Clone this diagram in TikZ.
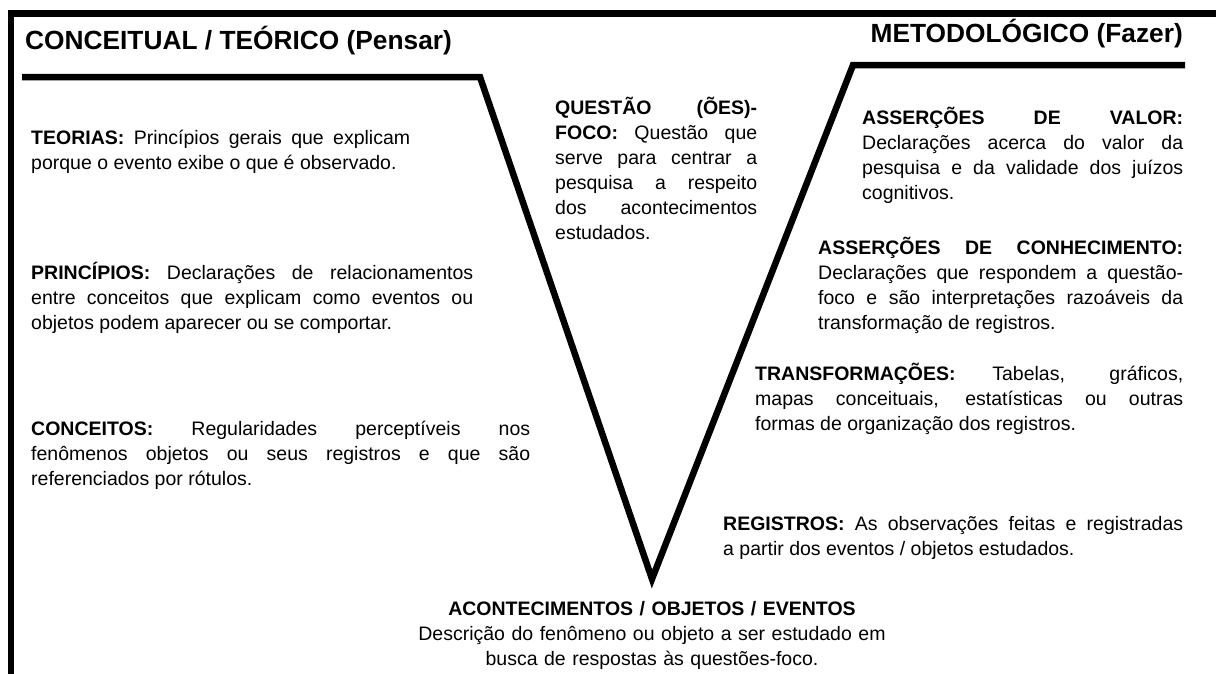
\documentclass[tikz,border=0pt]{standalone}
\usepackage{fontspec}
\setmainfont{Liberation Sans}
\usetikzlibrary{positioning}
\tolerance=10000
\hyphenpenalty=10000

\begin{document}
\begin{tikzpicture}[x=1pt,y=-1pt,
  bloco/.style={anchor=base west,inner sep=0pt,align=justify,font=\fontsize{19.5}{25}\selectfont},
  titulo/.style={inner sep=0pt,font=\fontsize{26.3}{30}\selectfont\bfseries},
  traco/.style={line width=6.5pt}]
\useasboundingbox (0,0) rectangle (1216,673);
\draw[traco] (1230,13.3) -- (11,13.3) -- (11,690);
\draw[traco] (22,77) -- (480,77) -- (652,579) -- (853,65) -- (1185,65);

\node[titulo,anchor=base west] (pensar) at (25,49) {CONCEITUAL / TEÓRICO (Pensar)};
\node[titulo,anchor=base east] (fazer) at (1183,42) {METODOLÓGICO (Fazer)};

\node[bloco,text width=379] (teorias) at (31,144) {{\bfseries TEORIAS:} Princípios gerais que explicam\linebreak porque o evento exibe o que é observado.};
\node[bloco,text width=442] (principios) at (31,279) {{\bfseries PRINCÍPIOS:} Declarações de relacionamentos\linebreak entre conceitos que explicam como eventos ou\linebreak objetos podem aparecer ou se comportar.};
\node[bloco,text width=499] (conceitos) at (31,435) {{\bfseries CONCEITOS:} Regularidades perceptíveis nos\linebreak fenômenos objetos ou seus registros e que são\linebreak referenciados por rótulos.};

\node[bloco,text width=202] (questao) at (555,114) {{\bfseries QUESTÃO (ÕES)-\linebreak FOCO:} Questão que\linebreak serve para centrar a\linebreak pesquisa a respeito\linebreak dos acontecimentos\linebreak estudados.};

\node[bloco,text width=321] (valor) at (862,124) {{\bfseries ASSERÇÕES DE VALOR:}\linebreak Declarações acerca do valor da\linebreak pesquisa e da validade dos juízos\linebreak cognitivos.};
\node[bloco,text width=365] (conhecimento) at (818,254) {{\bfseries ASSERÇÕES DE CONHECIMENTO:}\linebreak Declarações que respondem a questão-\linebreak foco e são interpretações razoáveis da\linebreak transformação de registros.};
\node[bloco,text width=428] (transformacoes) at (755,380) {{\bfseries TRANSFORMAÇÕES:} Tabelas, gráficos,\linebreak mapas conceituais, estatísticas ou outras\linebreak formas de organização dos registros.};
\node[bloco,text width=460] (registros) at (723,530) {{\bfseries REGISTROS:} As observações feitas e registradas\linebreak a partir dos eventos / objetos estudados.};

\node[bloco,anchor=base,text width=520,align=center] (acontecimentos) at (652,615) {{\bfseries ACONTECIMENTOS / OBJETOS / EVENTOS}\\ Descrição do fenômeno ou objeto a ser estudado em\\ busca de respostas às questões-foco.};
\end{tikzpicture}
\end{document}
